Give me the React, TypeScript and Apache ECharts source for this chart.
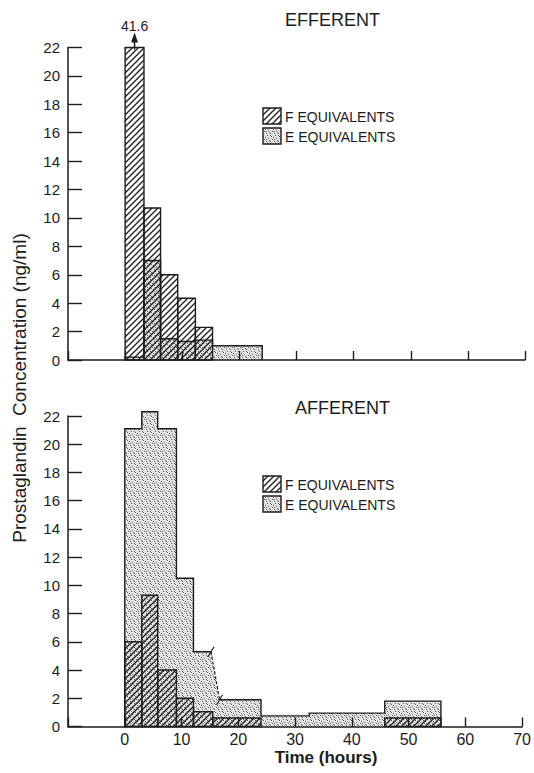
import React, { useEffect, useRef } from "react";
import * as echarts from "echarts";

// ---- data: [start hour, end hour, ng/ml] ----
const efferentF = [
  [0, 3.3, 41.6],
  [3.3, 6.2, 10.7],
  [6.2, 9.2, 6.0],
  [9.2, 12.3, 4.35],
  [12.3, 15.3, 2.3],
];
const efferentE = [
  [0, 3.3, 0.2],
  [3.3, 6.2, 7.0],
  [6.2, 9.2, 1.5],
  [9.2, 12.3, 1.3],
  [12.3, 15.3, 1.4],
  [15.3, 24, 1.0],
];
const afferentF = [
  [0, 3, 6.0],
  [3, 5.8, 9.3],
  [5.8, 9.1, 4.0],
  [9.1, 12.1, 2.0],
  [12.1, 15.5, 1.05],
  [15.5, 24, 0.6],
  [45.8, 55.7, 0.6],
];
const afferentE = [
  [0, 3, 21.1],
  [3, 5.8, 22.3],
  [5.8, 9.1, 21.1],
  [9.1, 12.1, 10.5],
  [12.1, 15.2, 5.3],
  [16.7, 24, 1.9],
  [24, 32.5, 0.75],
  [32.5, 45.8, 0.95],
  [45.8, 55.7, 1.8],
];
const xMin = -10;
const xMax = 70;
const xStep = 10;
const yMax = 22;
const yStep = 2;
const panelTitles = ["EFFERENT", "AFFERENT"];
const legendLabels = ["F EQUIVALENTS", "E EQUIVALENTS"];
const yAxisTitle = "Prostaglandin  Concentration (ng/ml)";
const xAxisTitle = "Time (hours)";

const INK = "#1c1c1c";
const FONT = "'Liberation Sans', Arial, Helvetica, sans-serif";

function makeHatch() {
  const s = 6;
  const c = document.createElement("canvas");
  c.width = s;
  c.height = s;
  const ctx = c.getContext("2d")!;
  ctx.strokeStyle = INK;
  ctx.lineWidth = 1.3;
  ctx.beginPath();
  ctx.moveTo(-1, s + 1);
  ctx.lineTo(s + 1, -1);
  ctx.moveTo(-1, 1);
  ctx.lineTo(1, -1);
  ctx.moveTo(s - 1, s + 1);
  ctx.lineTo(s + 1, s - 1);
  ctx.stroke();
  return { image: c.toDataURL(), repeat: "repeat", imageWidth: s, imageHeight: s };
}

function makeStipple() {
  const s = 8;
  const c = document.createElement("canvas");
  c.width = s;
  c.height = s;
  const ctx = c.getContext("2d")!;
  ctx.fillStyle = "#e2e2e2";
  ctx.fillRect(0, 0, s, s);
  ctx.fillStyle = "#606060";
  const dots = [
    [1, 1], [4, 2], [6, 5], [2, 5], [7, 0], [3, 7], [5, 4], [0, 3], [6, 7], [2, 3],
  ];
  dots.forEach(([x, y]) => ctx.fillRect(x, y, 1, 1));
  return { image: c.toDataURL(), repeat: "repeat", imageWidth: s, imageHeight: s };
}

export default function App() {
  const ref = useRef<HTMLDivElement>(null);

  useEffect(() => {
    if (!ref.current) return;
    const chart = echarts.init(ref.current, null, { renderer: "svg" });
    const hatch = makeHatch();
    const stipple = makeStipple();

    const fRender = (params: any, api: any) => {
      const x0 = api.value(0);
      const x1 = api.value(1);
      const v = api.value(2);
      const clipped = v > yMax * 1.2;
      const top = api.coord([x0, clipped ? yMax : v]);
      const bot = api.coord([x1, 0]);
      const rect = {
        type: "rect",
        shape: { x: top[0], y: top[1], width: bot[0] - top[0], height: bot[1] - top[1] },
        style: { fill: hatch, stroke: INK, lineWidth: 1.4 },
      };
      if (!clipped) return rect;
      const cx = (top[0] + bot[0]) / 2;
      const ty = top[1];
      return {
        type: "group",
        children: [
          rect,
          { type: "line", shape: { x1: cx, y1: ty + 2, x2: cx, y2: ty - 6 }, style: { stroke: INK, lineWidth: 1.5 } },
          {
            type: "polygon",
            shape: { points: [[cx, ty - 15], [cx - 3.5, ty - 5], [cx + 3.5, ty - 5]] },
            style: { fill: INK },
          },
          {
            type: "text",
            x: cx,
            y: ty - 22,
            style: {
              text: String(v),
              fill: INK,
              font: `14px ${FONT}`,
              textAlign: "center",
              textVerticalAlign: "middle",
            },
          },
        ],
      };
    };

    const eRender = (bins: number[][]) => (params: any, api: any) => {
      const pts: number[][] = [];
      const segs: number[][][] = [];
      const ramps: number[][][] = [];
      let seg: number[][] = [];
      const base0 = api.coord([bins[0][0], 0]);
      pts.push(base0);
      seg.push(base0);
      bins.forEach((b, i) => {
        const a = api.coord([b[0], b[2]]);
        const c = api.coord([b[1], b[2]]);
        if (i > 0 && b[0] !== bins[i - 1][1]) {
          const pe = api.coord([bins[i - 1][1], bins[i - 1][2]]);
          ramps.push([pe, a]);
          segs.push(seg);
          seg = [a];
        } else {
          seg.push(a);
        }
        seg.push(c);
        pts.push(a, c);
      });
      const last = bins[bins.length - 1];
      const baseN = api.coord([last[1], 0]);
      pts.push(baseN);
      seg.push(baseN);
      segs.push(seg);
      const children: any[] = [
        { type: "polygon", shape: { points: pts }, style: { fill: stipple, stroke: "none" } },
      ];
      segs.forEach((s) =>
        children.push({
          type: "polyline",
          shape: { points: s },
          style: { stroke: INK, lineWidth: 1.4, fill: "none" },
        })
      );
      ramps.forEach(([p, q]) => {
        children.push({
          type: "line",
          shape: { x1: p[0], y1: p[1], x2: q[0], y2: q[1] },
          style: { stroke: INK, lineWidth: 1.2, lineDash: [3, 2] },
        });
        [p, q].forEach((m) =>
          children.push({
            type: "line",
            shape: { x1: m[0] - 3, y1: m[1] + 5, x2: m[0] + 3, y2: m[1] - 5 },
            style: { stroke: INK, lineWidth: 1.2 },
          })
        );
      });
      return { type: "group", children };
    };

    const grids = [
      { left: 68, right: 9, top: 47.5, height: 312.5 },
      { left: 68, right: 9, top: 416, height: 310.5 },
    ];

    const xAxes = [0, 1].map((i) => ({
      type: "value",
      gridIndex: i,
      min: xMin,
      max: xMax,
      interval: xStep,
      z: 5,
      axisLine: { show: true, onZero: false, lineStyle: { color: INK, width: 1.5 } },
      axisTick: { show: true, inside: true, length: 9, lineStyle: { color: INK, width: 1.4 } },
      axisLabel: {
        show: i === 1,
        margin: 5,
        color: INK,
        fontSize: 16,
        fontFamily: FONT,
        formatter: (v: number) => (v < 0 ? "" : String(v)),
      },
      splitLine: { show: false },
    }));

    const yAxes = [0, 1].map((i) => ({
      type: "value",
      gridIndex: i,
      min: 0,
      max: yMax,
      interval: yStep,
      z: 5,
      axisLine: { show: true, onZero: false, lineStyle: { color: INK, width: 1.5 } },
      axisTick: { show: true, inside: true, length: 14, lineStyle: { color: INK, width: 1.4 } },
      axisLabel: { margin: 8, color: INK, fontSize: 15, fontFamily: FONT },
      splitLine: { show: false },
    }));

    const panelData = [
      { f: efferentF, e: efferentE },
      { f: afferentF, e: afferentE },
    ];

    const series: any[] = [];
    panelData.forEach((p, i) => {
      series.push({
        type: "custom",
        xAxisIndex: i,
        yAxisIndex: i,
        z: 1,
        data: [[0]],
        renderItem: eRender(p.e),
        silent: true,
      });
      series.push({
        type: "custom",
        xAxisIndex: i,
        yAxisIndex: i,
        z: 2,
        data: p.f,
        encode: { x: [0, 1], y: 2 },
        renderItem: fRender,
        silent: true,
      });
    });

    const legendBlock = (top: number) => [
      {
        type: "rect",
        shape: { x: 263, y: top, width: 18, height: 16 },
        style: { fill: hatch, stroke: INK, lineWidth: 1.4 },
      },
      {
        type: "rect",
        shape: { x: 263, y: top + 20, width: 18, height: 16 },
        style: { fill: stipple, stroke: INK, lineWidth: 1.4 },
      },
      {
        type: "text",
        x: 285,
        y: top + 9,
        style: { text: legendLabels[0], fill: INK, font: `14px ${FONT}`, textVerticalAlign: "middle" },
      },
      {
        type: "text",
        x: 285,
        y: top + 29,
        style: { text: legendLabels[1], fill: INK, font: `14px ${FONT}`, textVerticalAlign: "middle" },
      },
    ];

    chart.setOption({
      animation: false,
      backgroundColor: "#fff",
      grid: grids,
      xAxis: xAxes,
      yAxis: yAxes,
      series,
      graphic: [
        {
          type: "text",
          x: 285,
          y: 20,
          style: { text: panelTitles[0], fill: INK, font: `18px ${FONT}`, textVerticalAlign: "middle" },
        },
        {
          type: "text",
          x: 295,
          y: 408,
          style: { text: panelTitles[1], fill: INK, font: `18px ${FONT}`, textVerticalAlign: "middle" },
        },
        ...legendBlock(108),
        ...legendBlock(476),
        {
          type: "text",
          x: 19,
          y: 388,
          rotation: Math.PI / 2,
          style: {
            text: yAxisTitle,
            fill: INK,
            font: `19px ${FONT}`,
            textAlign: "center",
            textVerticalAlign: "middle",
          },
        },
        {
          type: "text",
          x: 326,
          y: 757,
          style: {
            text: xAxisTitle,
            fill: INK,
            font: `bold 17px ${FONT}`,
            textAlign: "center",
            textVerticalAlign: "middle",
          },
        },
      ],
    });

    return () => chart.dispose();
  }, []);

  return (
    <div
      ref={ref}
      style={{ position: "fixed", left: 0, top: 0, width: 534, height: 773, background: "#fff" }}
    />
  );
}
